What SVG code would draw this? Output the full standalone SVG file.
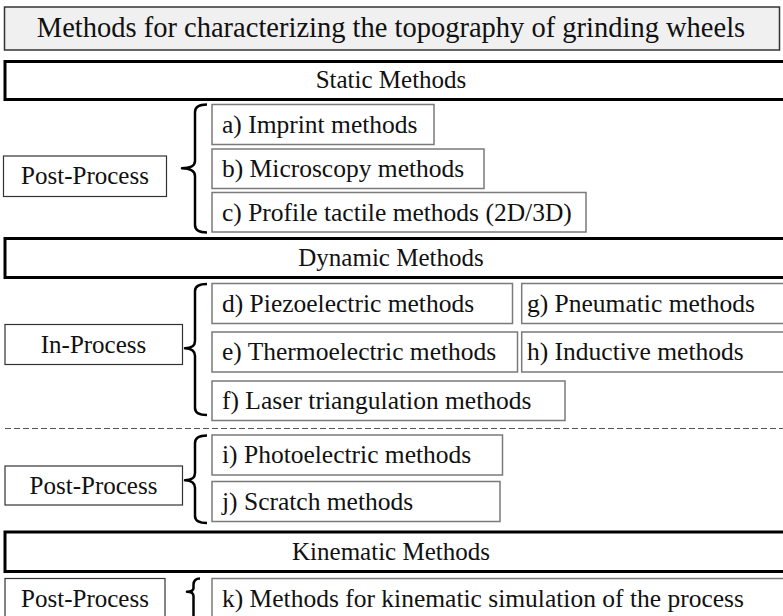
<svg xmlns="http://www.w3.org/2000/svg" width="783" height="616" viewBox="0 0 783 616" font-family="'Liberation Serif', 'Times New Roman', 'DejaVu Serif', serif">
  <style>
    text { font-family: 'Liberation Serif', 'Times New Roman', 'DejaVu Serif', serif; fill: #111; }
    .t { font-size: 25px; }
    .it { font-size: 25.5px; }
    .title { font-size: 28.5px; text-anchor: middle; }
    .mid { text-anchor: middle; }
    .bar { fill: #fff; stroke: #000; stroke-width: 3; }
    .head { fill: #f0f0f0; stroke: #333; stroke-width: 1.5; }
    .stage { fill: #fff; stroke: #333; stroke-width: 1.2; }
    .item { fill: #fff; stroke: #7a7a7a; stroke-width: 1.5; }
    .brace { fill: none; stroke: #000; stroke-width: 2.5; stroke-linejoin: round; }
    .sep { stroke: #555; stroke-width: 1.2; stroke-dasharray: 6 3; }
  </style>

  <!-- Heading -->
  <g id="heading">
    <rect class="head" x="4.5" y="7" width="775" height="43"/>
    <text class="title" x="391" y="37">Methods for characterizing the topography of grinding wheels</text>
  </g>

  <!-- Static methods -->
  <g id="static-bar">
    <rect class="bar" x="5" y="61.5" width="800" height="38"/>
    <text class="t mid" x="391" y="88">Static Methods</text>
  </g>
  <g id="static-post">
    <rect class="stage" x="3.5" y="156" width="163" height="40.5"/>
    <text class="t mid" x="85" y="184">Post-Process</text>
  </g>
  <g id="item-a">
    <rect class="item" x="212" y="104.5" width="222" height="40"/>
    <text class="it" x="222" y="133">a) Imprint  methods</text>
  </g>
  <g id="item-b">
    <rect class="item" x="212" y="149" width="272" height="39.5"/>
    <text class="it" x="222" y="177">b) Microscopy methods</text>
  </g>
  <g id="item-c">
    <rect class="item" x="212" y="192.5" width="374" height="39.5"/>
    <text class="it" x="222" y="220.5">c) Profile tactile methods (2D/3D)</text>
  </g>

  <!-- Dynamic methods -->
  <g id="dynamic-bar">
    <rect class="bar" x="5" y="238.5" width="800" height="39"/>
    <text class="t mid" x="391" y="266">Dynamic Methods</text>
  </g>
  <g id="dynamic-in">
    <rect class="stage" x="5" y="324.5" width="177.5" height="40"/>
    <text class="t mid" x="93.5" y="352.5">In-Process</text>
  </g>
  <g id="item-d">
    <rect class="item" x="212" y="283.5" width="300.5" height="40"/>
    <text class="it" x="222" y="311.7">d) Piezoelectric methods</text>
  </g>
  <g id="item-e">
    <rect class="item" x="212" y="332" width="305.5" height="40"/>
    <text class="it" x="222" y="360">e) Thermoelectric methods</text>
  </g>
  <g id="item-f">
    <rect class="item" x="212" y="381" width="353" height="39.5"/>
    <text class="it" x="222" y="409">f)  Laser triangulation methods</text>
  </g>
  <g id="item-g">
    <rect class="item" x="521.7" y="283.5" width="300" height="40"/>
    <text class="it" x="527" y="311.7">g) Pneumatic methods</text>
  </g>
  <g id="item-h">
    <rect class="item" x="521.7" y="332" width="300" height="40"/>
    <text class="it" x="527" y="360">h) Inductive methods</text>
  </g>

  <line class="sep" x1="5" y1="428.5" x2="783" y2="428.5"/>

  <g id="dynamic-post">
    <rect class="stage" x="5" y="466" width="177.5" height="39"/>
    <text class="t mid" x="93.5" y="494">Post-Process</text>
  </g>
  <g id="item-i">
    <rect class="item" x="212" y="435" width="290.5" height="40"/>
    <text class="it" x="222" y="463.3">i) Photoelectric methods</text>
  </g>
  <g id="item-j">
    <rect class="item" x="212" y="481.5" width="288" height="40"/>
    <text class="it" x="222" y="509.8">j) Scratch methods</text>
  </g>

  <!-- Kinematic methods -->
  <g id="kinematic-bar">
    <rect class="bar" x="5" y="532" width="800" height="39.5"/>
    <text class="t mid" x="391" y="560">Kinematic Methods</text>
  </g>
  <g id="kinematic-post">
    <rect class="stage" x="5" y="578.5" width="160" height="60"/>
    <text class="t mid" x="85" y="606.5">Post-Process</text>
  </g>
  <g id="item-k">
    <rect class="item" x="212" y="578.5" width="600" height="60"/>
    <text class="it" x="222" y="606.5">k) Methods for kinematic simulation of the process</text>
  </g>

  <!-- Braces joining each stage to its methods -->
  <g id="connectors">
    <path class="brace" d="M207,104.5 Q195,104.5 195,112 L195,161 Q195,168 182,168.3 Q195,168.6 195,176 L195,225 Q195,232.5 207,232.5"/>
    <path class="brace" d="M207,284 Q195,284 195,291 L195,341 Q195,348 185,348.3 Q195,348.6 195,356 L195,408 Q195,415 207,415"/>
    <path class="brace" d="M207,435.5 Q195,435.5 195,443 L195,473 Q195,480 185,480.3 Q195,480.6 195,488 L195,516 Q195,523 207,523"/>
    <path class="brace" d="M200,578.5 Q193.5,578.5 193.5,585 L193.5,588 Q193.5,591.7 187,591.8 Q193.5,592 193.5,596 L193.5,620"/>
  </g>
</svg>
